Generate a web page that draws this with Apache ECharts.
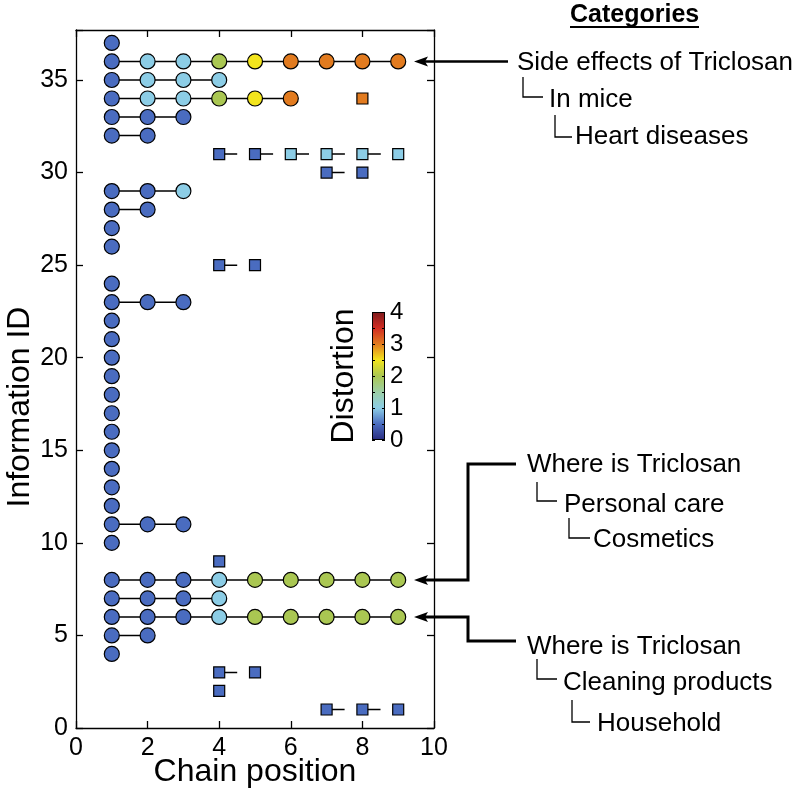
<!DOCTYPE html>
<html><head><meta charset="utf-8">
<script src="https://cdn.jsdelivr.net/npm/echarts@6/dist/echarts.min.js"></script>
<style>html,body{margin:0;padding:0;background:#fff}#c{width:796px;height:792px}</style>
</head><body><div id="c"></div>
<script>
// ---- data ----
const xTicks = [0, 2, 4, 6, 8, 10];
const yTicks = [0, 5, 10, 15, 20, 25, 30, 35];
const distortionTicks = [0, 1, 2, 3, 4];
// circle chains (start at chain position 1)
const circleIds = [37,36,35,34,33,32,29,28,27,26,24,23,22,21,20,19,18,17,16,15,14,13,12,11,10,8,7,6,5,4];
const circleDistortion = [
  [0.5],
  [0.5,1,1,2,2.5,3,3,3,3],
  [0.5,1,1,1],
  [0.5,1,1,2,2.5,3],
  [0.5,0.5,0.5],
  [0.5,0.5],
  [0.5,0.5,1],
  [0.5,0.5],
  [0.5],
  [0.5],
  [0.5],
  [0.5,0.5,0.5],
  [0.5],[0.5],[0.5],[0.5],[0.5],[0.5],[0.5],[0.5],[0.5],[0.5],[0.5],
  [0.5,0.5,0.5],
  [0.5],
  [0.5,0.5,0.5,1,2,2,2,2,2],
  [0.5,0.5,0.5,1],
  [0.5,0.5,0.5,1,2,2,2,2,2],
  [0.5,0.5],
  [0.5]
];
// square chains
const squareIds = [34,31,30,25,9,3,2,1];
const squareStart = [8,4,7,4,4,4,4,7];
const squareDistortion = [[3],[0.5,0.5,1,1,1,1],[0.5,0.5],[0.5,0.5],[0.5],[0.5,0.5],[0.5],[0.5,0.5,0.5]];
// colormap for distortion 0..4
const colormap = ['#2a2c80','#4a6cc0','#8ccde6','#9ccfa6','#aac752','#f3e51d','#e27b1f','#d12b22','#7c1a1c'];

const categoryLabels = {
  top: ['Side effects of Triclosan', 'In mice', 'Heart diseases'],
  mid: ['Where is Triclosan', 'Personal care', 'Cosmetics'],
  bot: ['Where is Triclosan', 'Cleaning products', 'Household']
};
const categoryTargets = [36, 8, 6];

// ---- build ----
const FONT = '"Liberation Sans", Arial, Helvetica, sans-serif';
const circlePts = [], squarePts = [], series = [];
circleIds.forEach((id, i) => {
  const d = circleDistortion[i];
  const pts = d.map((v, j) => [j + 1, id, v]);
  circlePts.push(...pts);
  if (pts.length > 1) series.push({
    type: 'line', data: pts.map(p => [p[0], p[1]]), symbol: 'none', silent: true, z: 1,
    lineStyle: { color: '#000', width: 1.5 }, animation: false
  });
});
squareIds.forEach((id, i) => {
  const d = squareDistortion[i];
  const pts = d.map((v, j) => [squareStart[i] + j, id, v]);
  squarePts.push(...pts);
  if (pts.length > 1) series.push({
    type: 'line', data: pts.map(p => [p[0], p[1]]), symbol: 'none', silent: true, z: 1,
    lineStyle: { color: '#000', width: 1.5, type: [18, 17.9] }, animation: false
  });
});
const circleIdx = series.length;
series.push({ type: 'scatter', data: circlePts, symbol: 'circle', symbolSize: 15, z: 3,
  itemStyle: { borderColor: '#000', borderWidth: 1.2, opacity: 1 }, animation: false });
series.push({ type: 'scatter', data: squarePts, symbol: 'rect', symbolSize: 11, z: 3,
  itemStyle: { borderColor: '#000', borderWidth: 1.2, opacity: 1 }, animation: false });
// colorbar
const stops = colormap.map((c, i) => ({ offset: i / (colormap.length - 1), color: c }));
series.push({ type: 'bar', xAxisIndex: 2, yAxisIndex: 2, data: [distortionTicks[distortionTicks.length - 1]],
  barWidth: '100%', silent: true, animation: false, z: 2,
  itemStyle: { color: { type: 'linear', x: 0, y: 1, x2: 0, y2: 0, colorStops: stops }, borderColor: '#000', borderWidth: 1 } });

const axisLine = { show: true, onZero: false, lineStyle: { color: '#000', width: 1.3 } };
const tick = { show: true, inside: true, length: 7, lineStyle: { color: '#000', width: 1.3 } };
const yMax = 37.7;

const option = {
  backgroundColor: '#fff',
  animation: false,
  grid: [
    { left: 76, right: 362, top: 30, bottom: 64, outerBoundsMode: 'none', containLabel: false },
    { left: 372, top: 312, width: 13, height: 128, outerBoundsMode: 'none', containLabel: false }
  ],
  visualMap: { type: 'continuous', show: false, min: 0, max: 4, dimension: 2,
    seriesIndex: [circleIdx, circleIdx + 1], inRange: { color: colormap } },
  xAxis: [
    { type: 'value', gridIndex: 0, min: xTicks[0], max: xTicks[xTicks.length - 1], interval: 2,
      axisLine, axisTick: tick, splitLine: { show: false },
      axisLabel: { fontSize: 25, color: '#000', fontFamily: FONT, margin: 8 },
      name: 'Chain position', nameLocation: 'middle', nameGap: 28, nameMoveOverlap: false,
      nameTextStyle: { fontSize: 32, color: '#000', fontFamily: FONT } },
    { type: 'value', gridIndex: 0, position: 'top', min: 0, max: 10, interval: 2,
      axisLine, axisTick: tick, splitLine: { show: false }, axisLabel: { show: false } },
    { type: 'category', gridIndex: 1, data: [''], show: false }
  ],
  yAxis: [
    { type: 'value', gridIndex: 0, min: yTicks[0], max: yMax, interval: 5,
      axisLine, axisTick: tick, splitLine: { show: false },
      axisLabel: { fontSize: 25, color: '#000', fontFamily: FONT, margin: 8,
        formatter: v => (yTicks.includes(v) ? String(v) : '') },
      name: 'Information ID', nameLocation: 'middle', nameGap: 38,
      nameTextStyle: { fontSize: 32, color: '#000', fontFamily: FONT, padding: [0, 56, 0, 0] } },
    { type: 'value', gridIndex: 0, position: 'right', min: 0, max: yMax, interval: 5,
      axisLine, axisTick: tick, splitLine: { show: false }, axisLabel: { show: false } },
    { type: 'value', gridIndex: 1, position: 'right', min: 0, max: 4, interval: 0.5, z: 10,
      axisLine: { show: false }, splitLine: { show: false },
      axisTick: { show: true, inside: true, length: 3, lineStyle: { color: '#000', width: 1 } },
      axisLabel: { fontSize: 24, color: '#000', fontFamily: FONT, margin: 5,
        formatter: v => (distortionTicks.includes(v) ? String(v) : '') } },
    { type: 'value', gridIndex: 1, position: 'left', min: 0, max: 4, interval: 0.5, z: 10,
      axisLine: { show: false }, splitLine: { show: false },
      axisTick: { show: true, inside: true, length: 3, lineStyle: { color: '#000', width: 1 } },
      axisLabel: { show: false },
      name: 'Distortion', nameLocation: 'middle', nameGap: 12,
      nameTextStyle: { fontSize: 32, color: '#000', fontFamily: FONT } }
  ],
  series
};

const chart = echarts.init(document.getElementById('c'), null, { renderer: 'canvas' });
chart.setOption(option);

// ---- annotations ----
const px = v => chart.convertToPixel({ xAxisIndex: 0, yAxisIndex: 0 }, v);
const xR = px([10, 0])[0];
const tipX = xR - 20;
const G = [];
const txt = (t, x, y, size, bold) => G.push({ type: 'text', z: 20, style: {
  text: t, x, y, fill: '#000', align: 'left', verticalAlign: 'middle',
  font: (bold ? 'bold ' : '') + size + 'px ' + FONT } });
const poly = (pts, w) => G.push({ type: 'polyline', z: 20, shape: { points: pts },
  style: { stroke: '#000', lineWidth: w, fill: null } });
const head = y => G.push({ type: 'polygon', z: 21, shape: { points: [[tipX, y], [tipX + 14, y - 5], [tipX + 11, y], [tipX + 14, y + 5]] },
  style: { fill: '#000' } });
const elbow = (x, y1, y2, x2) => poly([[x, y1], [x, y2], [x2, y2]], 1.3);

// header
txt('Categories', 570, 15, 25, true);
poly([[570, 27], [699, 27]], 2);

// top group
const y36 = px([0, categoryTargets[0]])[1];
poly([[508, y36], [tipX + 11, y36]], 2.5); head(y36);
txt(categoryLabels.top[0], 517, 63, 26);
elbow(523, 77, 97, 543); txt(categoryLabels.top[1], 549, 100, 26);
elbow(555, 115, 137, 572); txt(categoryLabels.top[2], 575, 137, 26);

// middle group
const y8 = px([0, categoryTargets[1]])[1];
poly([[516, 464], [468, 464], [468, y8], [tipX + 11, y8]], 3); head(y8);
txt(categoryLabels.mid[0], 527, 465, 26);
elbow(537, 482, 501, 557); txt(categoryLabels.mid[1], 564, 505, 26);
elbow(569, 518, 538, 590); txt(categoryLabels.mid[2], 593, 540, 26);

// bottom group
const y6 = px([0, categoryTargets[2]])[1];
poly([[516, 641], [468, 641], [468, y6], [tipX + 11, y6]], 3); head(y6);
txt(categoryLabels.bot[0], 527, 647, 26);
elbow(537, 659, 679, 557); txt(categoryLabels.bot[1], 563, 683, 26);
elbow(572, 700, 722, 590); txt(categoryLabels.bot[2], 597, 724, 26);

chart.setOption({ graphic: G });
</script></body></html>
